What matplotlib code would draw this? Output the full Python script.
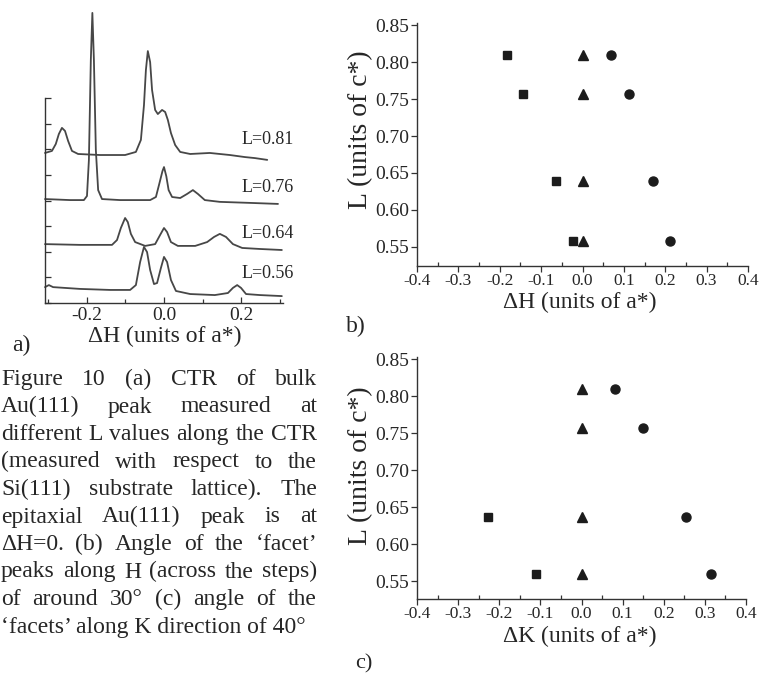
import matplotlib
matplotlib.use("Agg")
import matplotlib.pyplot as plt
from matplotlib.ticker import MultipleLocator, FixedLocator

plt.rcParams['font.family'] = ['Liberation Serif', 'DejaVu Serif']
plt.rcParams['axes.unicode_minus'] = False

# ---------------- data ----------------
# panel a: CTR scans (delta H, stacked intensity, arbitrary units)
trace_labels = ['L=0.81', 'L=0.76', 'L=0.64', 'L=0.56']

dh_081 = [-0.309, -0.291, -0.281, -0.273, -0.265, -0.257, -0.249, -0.239, -0.223, -0.166,
          -0.101, -0.073, -0.060, -0.052, -0.047, -0.042, -0.036, -0.031, -0.023, -0.016,
          -0.005, 0.003, 0.010, 0.018, 0.029, 0.042, 0.068, 0.119, 0.171, 0.210, 0.236, 0.268]
int_081 = [5.86, 5.94, 6.21, 6.60, 6.84, 6.72, 6.33, 5.94, 5.82, 5.78,
           5.78, 5.90, 6.37, 7.73, 9.10, 9.84, 9.41, 8.32, 7.54, 7.38,
           7.54, 7.46, 7.15, 6.64, 6.17, 5.90, 5.82, 5.86, 5.78, 5.70, 5.66, 5.59]

dh_076 = [-0.309, -0.244, -0.208, -0.200, -0.195, -0.190, -0.186, -0.182, -0.177, -0.171,
          -0.161, -0.114, -0.036, -0.021, -0.013, -0.004, 0.000, 0.006, 0.012, 0.021,
          0.042, 0.060, 0.075, 0.088, 0.106, 0.145, 0.223, 0.296]
int_076 = [4.06, 4.02, 4.02, 4.18, 5.59, 9.49, 11.33, 9.49, 5.98, 4.41,
           4.06, 4.02, 4.02, 4.14, 4.61, 5.15, 5.31, 4.95, 4.41, 4.14,
           4.10, 4.26, 4.41, 4.26, 4.02, 3.95, 3.91, 3.87]

dh_064 = [-0.309, -0.218, -0.135, -0.122, -0.112, -0.101, -0.094, -0.086, -0.075, -0.049,
          -0.023, -0.010, 0.000, 0.008, 0.018, 0.036, 0.081, 0.112, 0.130, 0.145,
          0.161, 0.179, 0.203, 0.249, 0.306]
int_064 = [2.30, 2.27, 2.27, 2.46, 2.93, 3.32, 3.16, 2.70, 2.38, 2.23,
           2.30, 2.66, 2.93, 2.77, 2.38, 2.23, 2.23, 2.38, 2.58, 2.70,
           2.58, 2.30, 2.15, 2.11, 2.07]

dh_056 = [-0.309, -0.299, -0.288, -0.218, -0.140, -0.088, -0.073, -0.062, -0.052, -0.044,
          -0.036, -0.026, -0.018, -0.008, 0.000, 0.008, 0.018, 0.031, 0.068, 0.132,
          0.166, 0.179, 0.190, 0.200, 0.213, 0.249, 0.306]
int_056 = [0.62, 0.70, 0.62, 0.55, 0.51, 0.51, 0.70, 1.60, 2.19, 1.99,
           1.29, 0.74, 0.78, 1.37, 1.80, 1.60, 0.90, 0.47, 0.35, 0.31,
           0.39, 0.59, 0.70, 0.59, 0.35, 0.31, 0.27]

# panel b: peak positions along H
L_b = [0.810, 0.757, 0.639, 0.558]
facet_neg_H = [-0.183, -0.145, -0.065, -0.022]
bulk_H = [0.0, 0.0, 0.0, 0.0]
facet_pos_H = [0.070, 0.113, 0.171, 0.212]

# panel c: peak positions along K
L_c = [0.810, 0.757, 0.637, 0.559]
bulk_K = [0.0, 0.0, 0.0, 0.0]
facet_pos_K = [0.082, 0.150, 0.253, 0.316]
L_c_neg = [0.637, 0.559]
facet_neg_K = [-0.227, -0.111]

caption_lines = [
    "Figure 10 (a) CTR of bulk",
    "Au(111) peak measured at",
    "different L values along the CTR",
    "(measured with respect to the",
    "Si(111) substrate lattice). The",
    "epitaxial Au(111) peak is at",
    "\u0394H=0. (b) Angle of the \u2018facet\u2019",
    "peaks along H (across the steps)",
    "of around 30\u00b0 (c) angle of the",
    "\u2018facets\u2019 along K direction of 40\u00b0",
]

# ---------------- figure ----------------
W, H = 760, 677
fig = plt.figure(figsize=(W / 100, H / 100), dpi=100)
fig.patch.set_facecolor('white')
TXT = '#262626'


def fx(px):
    return px / W


def fy(py):
    return 1 - py / H


def rect(l, t, r, b):
    return [l / W, 1 - b / H, (r - l) / W, (b - t) / H]


# ---- panel a ----
axa = fig.add_axes(rect(45, 6, 283, 303))
axa.patch.set_alpha(0)
for dh, it in [(dh_081, int_081), (dh_076, int_076), (dh_064, int_064), (dh_056, int_056)]:
    axa.plot(dh, it, color='#474747', lw=1.3, clip_on=False,
             solid_joinstyle='round', solid_capstyle='round')
axa.set_xlim(-0.309, 0.309)
axa.set_ylim(0, 11.6)
for s in ['top', 'right']:
    axa.spines[s].set_visible(False)
axa.spines['left'].set_bounds(0, 8)
for s in ['left', 'bottom']:
    axa.spines[s].set_color('#333333')
    axa.spines[s].set_linewidth(1.0)
axa.yaxis.set_major_locator(FixedLocator(list(range(0, 9))))
axa.set_yticklabels([])
axa.xaxis.set_major_locator(FixedLocator([-0.2, 0.0, 0.2]))
axa.xaxis.set_minor_locator(FixedLocator([-0.3, -0.1, 0.1, 0.3]))
axa.set_xticklabels(['-0.2', '0.0', '0.2'])
axa.tick_params(axis='both', which='major', direction='in', length=4, width=0.9,
                color='#333333', labelsize=14, labelcolor=TXT, pad=3)
axa.tick_params(axis='x', which='minor', direction='in', length=3, width=0.9, color='#333333')

label_y = [140, 188, 233, 273]
for lab, yy in zip(trace_labels, label_y):
    fig.text(fx(242), fy(yy), lab, ha='left', va='center', fontsize=13, color=TXT)
fig.text(fx(165), fy(336), '\u0394H (units of a*)', ha='center', va='center', fontsize=17, color=TXT)
fig.text(fx(12), fy(345), 'a)', ha='left', va='center', fontsize=17, color=TXT)


def style_scatter_axes(ax):
    ax.patch.set_alpha(0)
    for s in ['top', 'right']:
        ax.spines[s].set_visible(False)
    for s in ['left', 'bottom']:
        ax.spines[s].set_color('#333333')
        ax.spines[s].set_linewidth(1.0)
    ax.set_xlim(-0.4, 0.4)
    ax.xaxis.set_major_locator(MultipleLocator(0.1))
    ax.xaxis.set_minor_locator(MultipleLocator(0.05))
    ax.yaxis.set_major_locator(MultipleLocator(0.05))
    ax.xaxis.set_major_formatter(plt.FuncFormatter(lambda v, p: f'{v:.1f}'.replace('-0.0', '0.0')))
    ax.yaxis.set_major_formatter(plt.FuncFormatter(lambda v, p: f'{v:.2f}'))
    ax.tick_params(axis='both', which='major', direction='out', length=4, width=0.9,
                   color='#333333', labelcolor=TXT)
    ax.tick_params(axis='x', which='major', labelsize=12.5, pad=1)
    ax.tick_params(axis='y', which='major', labelsize=14, pad=1.5)
    ax.tick_params(axis='x', which='minor', direction='in', length=3, width=0.9, color='#333333')


MK = '#1c1c1c'
# ---- panel b ----
axb = fig.add_axes(rect(417, 22.8, 748, 266))
axb.plot(facet_neg_H, L_b, 's', color=MK, ms=6)
axb.plot(bulk_H, L_b, '^', color=MK, ms=7)
axb.plot(facet_pos_H, L_b, 'o', color=MK, ms=6.5)
axb.set_ylim(0.5243, 0.853)
style_scatter_axes(axb)
fig.text(fx(580), fy(302), '\u0394H (units of a*)', ha='center', va='center', fontsize=17, color=TXT)
fig.text(fx(361), fy(130), 'L (units of c*)', ha='center', va='center', rotation=90,
         fontsize=20, color=TXT)
fig.text(fx(346), fy(326), 'b)', ha='left', va='center', fontsize=17, color=TXT)

# ---- panel c ----
axc = fig.add_axes(rect(417, 357, 746, 599))
axc.plot(facet_neg_K, L_c_neg, 's', color=MK, ms=6)
axc.plot(bulk_K, L_c, '^', color=MK, ms=7)
axc.plot(facet_pos_K, L_c, 'o', color=MK, ms=6.5)
axc.set_ylim(0.5257, 0.853)
style_scatter_axes(axc)
fig.text(fx(580), fy(636), '\u0394K (units of a*)', ha='center', va='center', fontsize=17, color=TXT)
fig.text(fx(361), fy(466), 'L (units of c*)', ha='center', va='center', rotation=90,
         fontsize=20, color=TXT)
fig.text(fx(355), fy(664), 'c)', ha='left', va='center', fontsize=16, color=TXT)

# ---- justified caption ----
fig.canvas.draw()
renderer = fig.canvas.get_renderer()
left_px, right_px = 1, 317
base0, dy = 385, 27.5
for i, line in enumerate(caption_lines):
    yb = fy(base0 + i * dy)
    if i == len(caption_lines) - 1:
        fig.text(fx(left_px), yb, line, ha='left', va='baseline', fontsize=17, color=TXT)
        continue
    words = line.split(' ')
    texts = [fig.text(0, yb, w, ha='left', va='baseline', fontsize=17, color=TXT) for w in words]
    widths = [t.get_window_extent(renderer).width for t in texts]
    gap = (right_px - left_px - sum(widths)) / max(len(words) - 1, 1)
    x = left_px
    for t, w in zip(texts, widths):
        t.set_x(fx(x))
        x += w + gap

fig.savefig('out.png', dpi=100)
